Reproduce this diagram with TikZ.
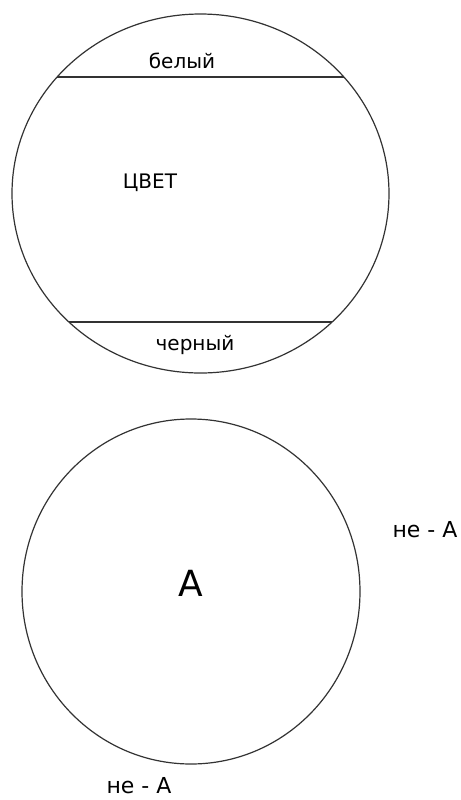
\documentclass[tikz,border=0pt]{standalone}
\usepackage{fontspec}
\setmainfont{DejaVu Sans}
\begin{document}
\begin{tikzpicture}[x=.5pt,y=-.5pt,line cap=round,line join=round,
  outline/.style={draw=black!80,line width=.6pt},
  lbl/.style={font=\fontsize{10}{12}\selectfont,inner sep=0pt},
  notlbl/.style={font=\fontsize{11}{13}\selectfont,inner sep=0pt}]
\path[use as bounding box] (0,0) rectangle (461,800);
\fill[white] (0,0) rectangle (461,800);

% Colour circle, cut by two chords: white on top, black below.
\draw[outline] (200.5,193.5) ellipse[x radius=188.5,y radius=179.5];
\begin{scope}
  \clip (200.5,193.5) ellipse[x radius=188.5,y radius=179.5];
  \draw[outline] (0,77)--(461,77);
  \draw[outline] (0,322)--(461,322);
\end{scope}
\node[lbl] (white) at (182,61) {белый};
\node[lbl] (colour) at (150,183) {ЦВЕТ};
\node[lbl] (black) at (195,345) {черный};

% A and its complement outside.
\draw[outline] (191,591.5) ellipse[x radius=169,y radius=172.5];
\node[lbl,font=\fontsize{18}{20}\selectfont] (a) at (190.5,583.5) {А};
\node[notlbl] (nota) at (425,530) {не - А};
\node[notlbl] (notab) at (139,786) {не - А};
\end{tikzpicture}
\end{document}
